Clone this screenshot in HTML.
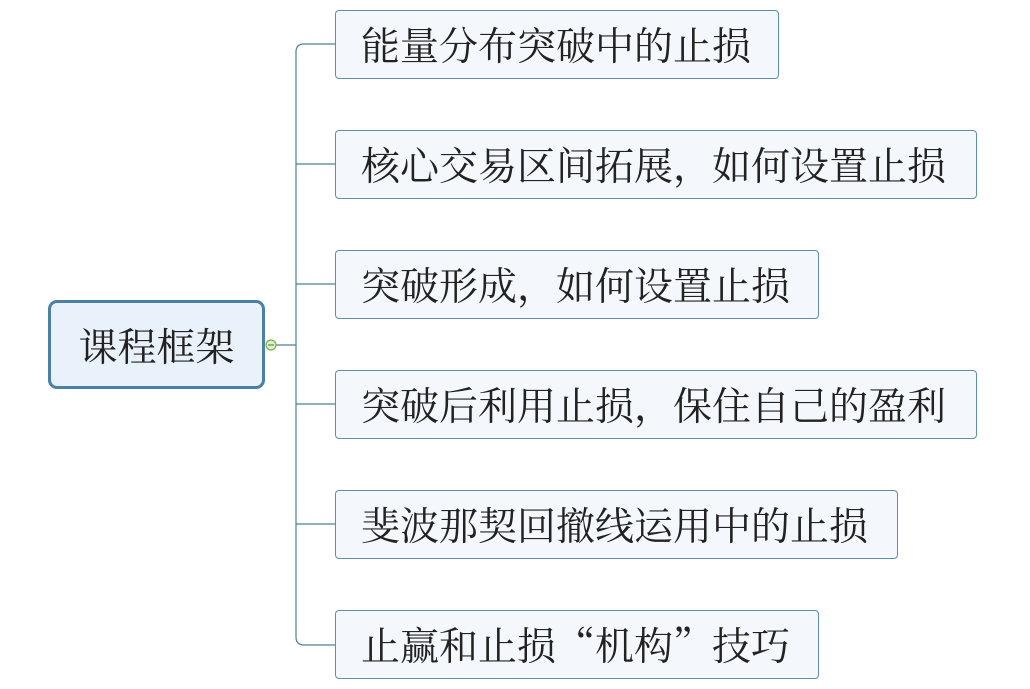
<!DOCTYPE html>
<html><head><meta charset="utf-8"><style>
body{margin:0;width:1030px;height:689px;background:#fff;position:relative;overflow:hidden;font-family:"Noto Serif CJK SC","Liberation Serif",serif;}
.b{position:absolute;box-sizing:border-box;border:1px solid #5b8fb0;border-radius:4px;background:#f4f8fc;color:#222;font-size:39px;line-height:67px;padding-left:25px;height:69px;left:335px;white-space:nowrap;}
.r{position:absolute;left:48px;top:300px;width:217px;height:89px;box-sizing:border-box;border:3px solid #4a7fa8;border-radius:9px;background:#e9f1fa;font-size:39px;color:#222;text-align:center;line-height:85px;}
</style></head><body>
<svg width="1030" height="689" style="position:absolute;left:0;top:0">
<g fill="none" stroke="#4f7f9f" stroke-width="1.2">
<path d="M272 345 H296"/>
<path d="M335 44 H304 Q296 44 296 52 V637 Q296 645 304 645 H335"/>
<path d="M296 164 H335 M296 284 H335 M296 404 H335 M296 524 H335"/>
</g>
<circle cx="271" cy="345" r="5" fill="#dff0c8" stroke="#7ab04a" stroke-width="1.2"/>
<line x1="268" y1="345" x2="274" y2="345" stroke="#4a7a2a" stroke-width="1"/>
</svg>
<div class="r">课程框架</div>
<div class="b" style="top:10px;width:444px">能量分布突破中的止损</div>
<div class="b" style="top:130px;width:642px">核心交易区间拓展，如何设置止损</div>
<div class="b" style="top:250px;width:484px">突破形成，如何设置止损</div>
<div class="b" style="top:370px;width:642px">突破后利用止损，保住自己的盈利</div>
<div class="b" style="top:490px;width:563px">斐波那契回撤线运用中的止损</div>
<div class="b" style="top:610px;width:484px">止赢和止损“机构”技巧</div>
</body></html>
